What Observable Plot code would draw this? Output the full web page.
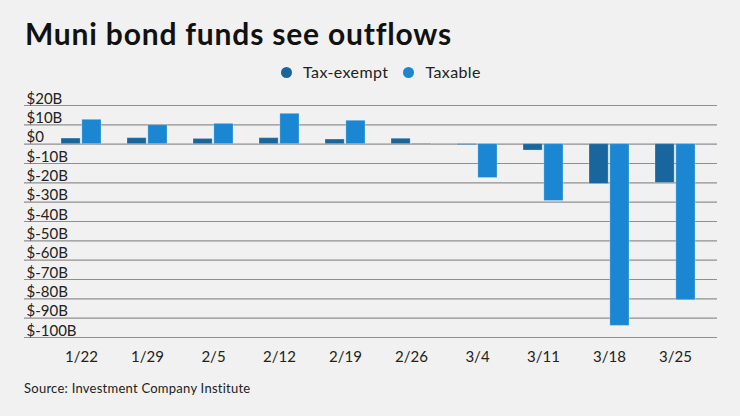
<!DOCTYPE html>
<html>
<head>
<meta charset="utf-8">
<script src="https://cdn.jsdelivr.net/npm/d3@7"></script>
<script src="https://cdn.jsdelivr.net/npm/@observablehq/plot@0.6"></script>
<style>
  html, body { margin: 0; padding: 0; background: #f0f1f0; }
  body { width: 740px; height: 416px; overflow: hidden; font-family: Lato, "Noto Sans", sans-serif; }
  #title { margin: 0; padding: 18px 0 0 25px; height: 30px; line-height: 30px; font-size: 30px; font-weight: 700; color: #111; letter-spacing: 0.8px; }
  #legend { margin-top: 14px; height: 20px; line-height: 20px; font-size: 16px; color: #222; display: flex; align-items: center; padding-left: 281px; letter-spacing: 0.4px; }
  #legend .item { display: flex; align-items: center; margin-right: 15px; }
  #legend .dot { width: 11px; height: 11px; border-radius: 50%; margin-right: 11px; }
  #chart svg { display: block; }
  #source { margin-top: 8px; padding-left: 24px; height: 16px; line-height: 16px; font-size: 13px; color: #222; letter-spacing: 0.25px; }
</style>
</head>
<body>
<div id="title">Muni bond funds see outflows</div>
<div id="legend"></div>
<div id="chart"></div>
<div id="source">Source: Investment Company Institute</div>
<script>
const dates = ["1/22", "1/29", "2/5", "2/12", "2/19", "2/26", "3/4", "3/11", "3/18", "3/25"];
const seriesNames = ["Tax-exempt", "Taxable"];
const seriesColors = ["#19669f", "#1b87d3"];
const taxExempt = [2.9, 3.1, 2.7, 3.1, 2.4, 2.8, -0.5, -3.3, -20.6, -20.1];
const taxable = [12.6, 9.8, 10.5, 15.7, 12.1, 0.3, -17.5, -29.4, -94.0, -80.7];
const yTicks = [20, 10, 0, -10, -20, -30, -40, -50, -60, -70, -80, -90, -100];
const yFormat = d => d === 0 ? "$0" : `$${d}B`;

const rowsTE = dates.map((d, i) => ({date: d, series: seriesNames[0], value: taxExempt[i]}));
const rowsTX = dates.map((d, i) => ({date: d, series: seriesNames[1], value: taxable[i]}));

// legend
const legend = document.getElementById("legend");
seriesNames.forEach((name, i) => {
  const item = document.createElement("div");
  item.className = "item";
  const dot = document.createElement("span");
  dot.className = "dot";
  dot.style.background = seriesColors[i];
  const label = document.createElement("span");
  label.textContent = name;
  item.appendChild(dot);
  item.appendChild(label);
  legend.appendChild(item);
});

const half = 20.85;
const chart = Plot.plot({
  width: 740,
  height: 290,
  marginTop: 23,
  marginBottom: 35,
  marginLeft: 24,
  marginRight: 23,
  style: {background: "transparent", fontFamily: "Lato, 'Noto Sans', sans-serif", color: "#222"},
  x: {type: "band", domain: dates, range: [47, 709], paddingInner: 0.4, paddingOuter: 0.2, label: null},
  y: {domain: [-100, 20], label: null},
  marks: [
    Plot.gridY(yTicks, {stroke: "#8f8f8f", strokeOpacity: 1, strokeWidth: 1.2}),
    Plot.barY(rowsTE, {x: "date", y: "value", fill: seriesColors[0], insetRight: half, stroke: "#ffffff", strokeOpacity: 0.25, strokeWidth: 1}),
    Plot.barY(rowsTX, {x: "date", y: "value", fill: seriesColors[1], insetLeft: half, stroke: "#ffffff", strokeOpacity: 0.25, strokeWidth: 1}),
    Plot.axisY(yTicks, {anchor: "left", tickSize: 0, tickPadding: 0, dx: 2, dy: -2, textAnchor: "start", lineAnchor: "bottom", tickFormat: yFormat, fontSize: 15, fill: "#222", label: null}),
    Plot.axisX({tickSize: 0, tickPadding: 14, fontSize: 15, fill: "#222", label: null})
  ]
});
document.getElementById("chart").appendChild(chart);
</script>
</body>
</html>
